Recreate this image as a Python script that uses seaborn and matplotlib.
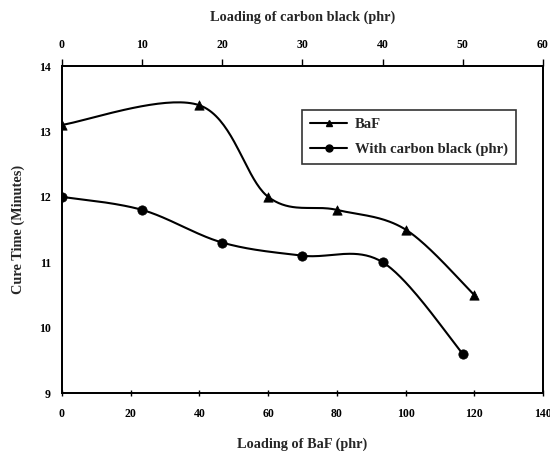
import numpy as np
import pandas as pd
import matplotlib
matplotlib.use("Agg")
import matplotlib.pyplot as plt
from matplotlib.lines import Line2D
import seaborn as sns

# Cure time vs BaF loading (bottom axis)
baf_loading = [0, 40, 60, 80, 100, 120]
baf_cure = [13.1, 13.4, 12.0, 11.8, 11.5, 10.5]

# Cure time vs carbon black loading (top axis)
cb_loading = [0, 10, 20, 30, 40, 50]
cb_cure = [12.0, 11.8, 11.3, 11.1, 11.0, 9.6]

bottom_ticks = [0, 20, 40, 60, 80, 100, 120, 140]
top_ticks = [0, 10, 20, 30, 40, 50, 60]
y_ticks = [9, 10, 11, 12, 13, 14]

sns.set_theme(style="white")
plt.rcParams["font.family"] = ["Liberation Serif", "DejaVu Serif"]
plt.rcParams["font.weight"] = "bold"


def smooth(xs, ys, n=40):
    """Bezier smoothing through points (Catmull-Rom style control points)."""
    p = np.column_stack([xs, ys]).astype(float)
    out = []
    for i in range(len(p) - 1):
        p0 = p[i - 1] if i > 0 else p[i]
        p1, p2 = p[i], p[i + 1]
        p3 = p[i + 2] if i + 2 < len(p) else p[i + 1]
        c1 = p1 + (p2 - p0) / 6.0
        c2 = p2 - (p3 - p1) / 6.0
        t = np.linspace(0, 1, n)[:, None]
        seg = ((1 - t) ** 3) * p1 + 3 * ((1 - t) ** 2) * t * c1 \
            + 3 * (1 - t) * t ** 2 * c2 + t ** 3 * p2
        out.append(seg if i == 0 else seg[1:])
    s = np.vstack(out)
    return s[:, 0], s[:, 1]


fig = plt.figure(figsize=(5.5, 4.51), dpi=100)
ax = fig.add_axes([0.1127, 0.1286, 0.8745, 0.725])
ax2 = ax.twiny()

# BaF series on the bottom axis
sx, sy = smooth(baf_loading, baf_cure)
ax.plot(sx, sy, color="black", lw=1.5, zorder=3)
sns.scatterplot(x=baf_loading, y=baf_cure, ax=ax, marker="^", s=45,
                color="black", edgecolor="black", zorder=4, legend=False)

# Carbon black series on the top axis
cx, cy = smooth(cb_loading, cb_cure)
ax2.plot(cx, cy, color="black", lw=1.5, zorder=3)
sns.scatterplot(x=cb_loading, y=cb_cure, ax=ax2, marker="o", s=45,
                color="black", edgecolor="black", zorder=4, legend=False)

ax.set_xlim(0, 140)
ax2.set_xlim(0, 60)
ax.set_ylim(9, 14)
ax.set_xticks(bottom_ticks)
ax2.set_xticks(top_ticks)
ax.set_yticks(y_ticks)
ax.set_xticklabels([str(t) for t in bottom_ticks])
ax2.set_xticklabels([str(t) for t in top_ticks])
ax.set_yticklabels([str(t) for t in y_ticks])

for a in (ax, ax2):
    for sp in a.spines.values():
        sp.set_color("black")
        sp.set_linewidth(1.3)

ax.tick_params(axis="x", direction="inout", length=5, width=1, colors="black",
               labelsize=8.5, pad=8)
ax.tick_params(axis="y", direction="inout", length=6, width=1, colors="black",
               labelsize=8.5, pad=5)
ax2.tick_params(axis="x", direction="out", length=5, width=1, colors="black",
                labelsize=8.5, pad=6)
for lab in ax.get_xticklabels() + ax.get_yticklabels() + ax2.get_xticklabels():
    lab.set_fontweight("bold")

ax.set_xlabel("Loading of BaF (phr)", fontsize=10.3, fontweight="bold", labelpad=13)
ax2.set_xlabel("Loading of carbon black (phr)", fontsize=10.3, fontweight="bold",
               labelpad=13)
ax.set_ylabel("Cure Time (Minutes)", fontsize=10.3, fontweight="bold", labelpad=10)

handles = [
    Line2D([], [], color="black", lw=1.5, marker="^", markersize=5),
    Line2D([], [], color="black", lw=1.5, marker="o", markersize=5),
]
leg = ax.legend(handles, ["BaF", "With carbon black (phr)"],
                loc="upper left", bbox_to_anchor=(0.50, 0.865),
                borderaxespad=0, fontsize=10.5, frameon=True, fancybox=False,
                handlelength=2.5, handletextpad=0.55, borderpad=0.55,
                labelspacing=0.75)
leg.get_frame().set_edgecolor("black")
leg.get_frame().set_linewidth(1.2)
for t in leg.get_texts():
    t.set_fontweight("bold")

fig.savefig("out.png", dpi=100, facecolor="white")
